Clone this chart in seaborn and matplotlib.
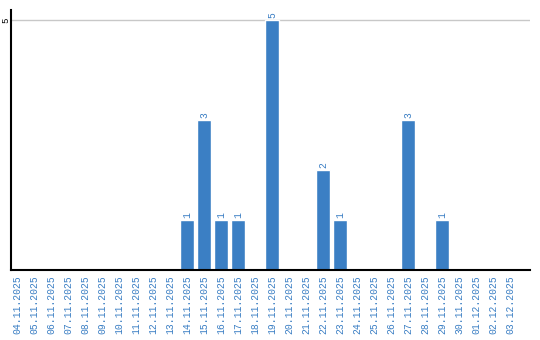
import matplotlib
matplotlib.use("Agg")
import matplotlib.pyplot as plt
import seaborn as sns
import pandas as pd

dates = ["04.11.2025", "05.11.2025", "06.11.2025", "07.11.2025", "08.11.2025",
         "09.11.2025", "10.11.2025", "11.11.2025", "12.11.2025", "13.11.2025",
         "14.11.2025", "15.11.2025", "16.11.2025", "17.11.2025", "18.11.2025",
         "19.11.2025", "20.11.2025", "21.11.2025", "22.11.2025", "23.11.2025",
         "24.11.2025", "25.11.2025", "26.11.2025", "27.11.2025", "28.11.2025",
         "29.11.2025", "30.11.2025", "01.12.2025", "02.12.2025", "03.12.2025"]
counts = [0, 0, 0, 0, 0, 0, 0, 0, 0, 0,
          1, 3, 1, 1, 0, 5, 0, 0, 2, 1,
          0, 0, 0, 3, 0, 1, 0, 0, 0, 0]
yticks = [5]

sns.set_theme(style="white")
plt.rcParams['font.family'] = ['Liberation Mono', 'DejaVu Sans Mono']

BLUE = "#3b7fc4"
df = pd.DataFrame({"date": dates, "count": counts})

fig = plt.figure(figsize=(5.4, 3.4), dpi=100)
ax = fig.add_axes([11 / 540, 70 / 340, 519 / 540, 260 / 340])
sns.barplot(data=df, x="date", y="count", color=BLUE, saturation=1, width=0.82, ax=ax)

for p, v in zip(ax.patches, counts):
    if v > 0:
        ax.text(p.get_x() + p.get_width() / 2, v + 0.04, str(v), rotation=90,
                ha="center", va="bottom", fontsize=7, color=BLUE)

ax.set_ylim(0, 5.2)
ax.set_xlim(-0.37, 30.16)
ax.set_yticks(yticks)
ax.set_yticklabels([str(t) for t in yticks], rotation=90, fontsize=6.5, va="center", color="black")
ax.tick_params(axis="y", length=0, pad=0.5)
ax.tick_params(axis="x", length=0, pad=4, labelrotation=90, labelsize=7, labelcolor=BLUE)
ax.yaxis.grid(True, color="#c8c8c8", linewidth=1)
ax.set_axisbelow(True)
ax.set_xlabel("")
ax.set_ylabel("")
for s in ["top", "right"]:
    ax.spines[s].set_visible(False)
for s in ["left", "bottom"]:
    ax.spines[s].set_color("black")
    ax.spines[s].set_linewidth(1.5)

fig.savefig("out.png", dpi=100)
